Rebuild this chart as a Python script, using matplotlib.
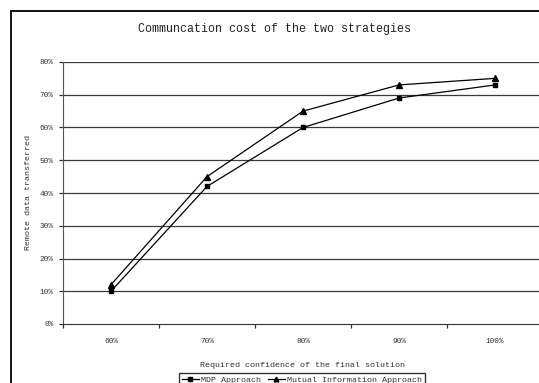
import matplotlib
matplotlib.use('Agg')
import matplotlib.pyplot as plt
from matplotlib.patches import Rectangle

# confidence levels and share of remote data transferred (percent)
confidence = ['60%', '70%', '80%', '90%', '100%']
mdp = [10, 42, 60, 69, 73]
mutual_info = [12, 45, 65, 73, 75]
y_ticks = [0, 10, 20, 30, 40, 50, 60, 70, 80]

plt.rcParams['font.family'] = ['Liberation Mono', 'DejaVu Sans']
txt = '#333333'

fig = plt.figure(figsize=(5.39, 3.83), dpi=100)
fig.patch.set_facecolor('white')

# chart border (runs off the right and bottom edges)
fig.patches.append(Rectangle((11 / 539, -0.1), 1.2, 1 - 11 / 383 + 0.1,
                             transform=fig.transFigure, fill=False,
                             edgecolor='black', linewidth=1.3))

ax = fig.add_axes([63 / 539, 1 - 324 / 383, 480 / 539, 262 / 383])
x = list(range(len(confidence)))

for yv in y_ticks[1:]:
    ax.axhline(yv, color='#3a3a3a', linewidth=0.9, zorder=1)

ax.plot(x, mdp, color='black', linewidth=0.9, marker='s', markersize=3.3,
        label='MDP Approach', zorder=3)
ax.plot(x, mutual_info, color='black', linewidth=0.9, marker='^', markersize=3.8,
        label='Mutual Information Approach', zorder=3)

ax.set_xlim(-0.5, len(confidence) - 0.5)
ax.set_ylim(0, 80)
ax.set_yticks(y_ticks)
ax.set_yticklabels([f'{v}%' for v in y_ticks])
ax.set_xticks([i - 0.5 for i in range(len(confidence) + 1)])
ax.set_xticklabels([])
ax.set_xticks(x, minor=True)
ax.set_xticklabels(confidence, minor=True)
ax.tick_params(axis='x', which='major', length=3, width=0.9, color='#333333')
ax.tick_params(axis='x', which='minor', length=0, pad=10, labelsize=5.6, labelcolor=txt)
ax.tick_params(axis='y', length=3, width=0.9, color='#333333', pad=4,
               labelsize=5.6, labelcolor=txt)

for side in ['top', 'right']:
    ax.spines[side].set_visible(False)
ax.spines['left'].set_color('#555555')
ax.spines['bottom'].set_color('#333333')

ax.set_xlabel('Required confidence of the final solution', fontsize=6.0,
              color=txt, labelpad=12.5)
ax.set_ylabel('Remote data transferred', fontsize=6.0, color=txt, labelpad=5)
fig.text(275 / 539, 1 - 29 / 383, 'Communcation cost of the two strategies',
         ha='center', va='center', fontsize=8.4, color='#222222')

fig.legend(loc='upper center', bbox_to_anchor=(302 / 539, 1 - 369 / 383), ncol=2,
           fontsize=6.0, frameon=True, fancybox=False, edgecolor='black',
           handlelength=2.0, handletextpad=0.3, columnspacing=0.8,
           borderpad=0.35, labelcolor=txt, markerscale=0.9)

fig.savefig('out.png', dpi=100)
